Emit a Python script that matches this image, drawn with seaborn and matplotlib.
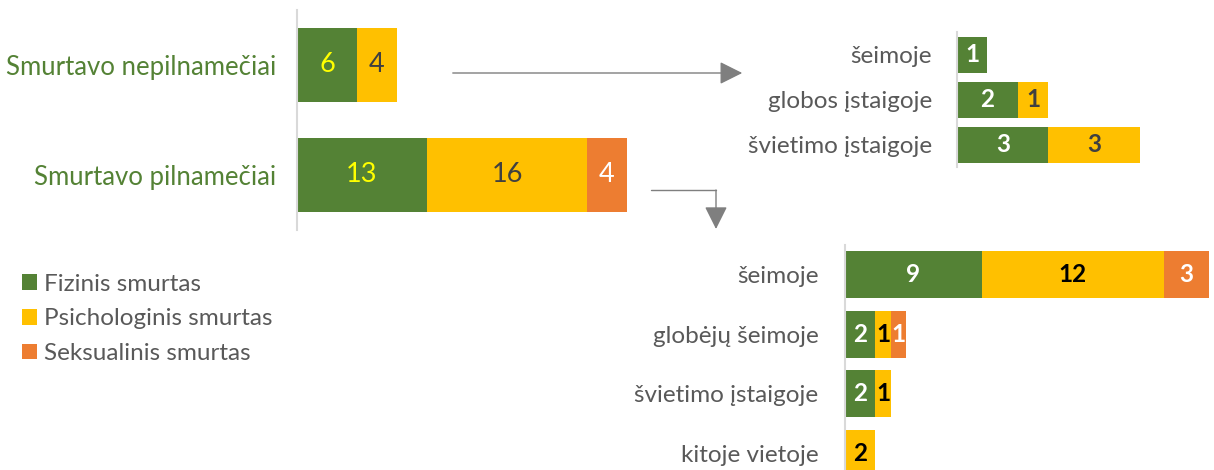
import matplotlib
matplotlib.use("Agg")
import matplotlib.pyplot as plt
import seaborn as sns
import numpy as np
from matplotlib.patches import Patch, FancyArrowPatch
from matplotlib.lines import Line2D

# ---- data ----
main_cats = ["Smurtavo nepilnamečiai", "Smurtavo pilnamečiai"]
main_fiz = [6, 13]
main_psi = [4, 16]
main_sek = [0, 4]

top_cats = ["šeimoje", "globos įstaigoje", "švietimo įstaigoje"]
top_fiz = [1, 2, 3]
top_psi = [0, 1, 3]
top_sek = [0, 0, 0]

bot_cats = ["šeimoje", "globėjų šeimoje", "švietimo įstaigoje", "kitoje vietoje"]
bot_fiz = [9, 2, 2, 0]
bot_psi = [12, 1, 1, 2]
bot_sek = [3, 1, 0, 0]

series_names = ["Fizinis smurtas", "Psichologinis smurtas", "Seksualinis smurtas"]

GREEN = "#548235"
YELLOW = "#FFC000"
ORANGE = "#ED7D31"
GRAY_TXT = "#595959"
AXIS = "#D9D9D9"

sns.set_theme(style="white")
plt.rcParams["font.family"] = ["Lato", "DejaVu Sans"]

W, H = 1214, 470
fig = plt.figure(figsize=(W / 100, H / 100), dpi=100)


def px_axes(left, top, right, bottom):
    return fig.add_axes([left / W, 1 - bottom / H, (right - left) / W, (bottom - top) / H])


def stacked(ax, cats, fiz, psi, sek, width, xmax, lab_colors, lab_size, lab_weight):
    fiz = np.array(fiz, float)
    psi = np.array(psi, float)
    sek = np.array(sek, float)
    c1 = fiz
    c2 = fiz + psi
    c3 = fiz + psi + sek
    for vals, col in [(c3, ORANGE), (c2, YELLOW), (c1, GREEN)]:
        sns.barplot(x=vals, y=cats, orient="h", color=col, saturation=1,
                    width=width, linewidth=0, ax=ax)
    for i in range(len(cats)):
        starts = [0, c1[i], c2[i]]
        for j, v in enumerate([fiz[i], psi[i], sek[i]]):
            if v > 0:
                ax.text(starts[j] + v / 2, i, f"{int(v)}", ha="center", va="center",
                        color=lab_colors[j], fontsize=lab_size, fontweight=lab_weight)
    ax.set_xlim(0, xmax)
    ax.set_xlabel("")
    ax.set_ylabel("")
    ax.set_xticks([])
    for s in ["top", "right", "bottom"]:
        ax.spines[s].set_visible(False)
    ax.spines["left"].set_color(AXIS)
    ax.spines["left"].set_linewidth(1.5)
    ax.tick_params(axis="y", length=0)
    ax.patch.set_alpha(0)


# main chart
ax1 = px_axes(297, 10, 650, 230)
stacked(ax1, main_cats, main_fiz, main_psi, main_sek, 0.68, 35.3,
        ["#FFFF00", "#404040", "white"], 19.5, "normal")
ax1.tick_params(axis="y", labelsize=18.5, labelcolor=GREEN, pad=15)

# top-right chart
ax2 = px_axes(957, 32, 1200, 167)
stacked(ax2, top_cats, top_fiz, top_psi, top_sek, 0.8, 7.97,
        ["white", "#404040", "white"], 17.5, "bold")
ax2.tick_params(axis="y", labelsize=17.5, labelcolor=GRAY_TXT, pad=18)

# bottom-right chart
ax3 = px_axes(845, 245, 1214, 483)
stacked(ax3, bot_cats, bot_fiz, bot_psi, bot_sek, 0.79, 24.3,
        ["white", "black", "white"], 17.5, "bold")
ax3.tick_params(axis="y", labelsize=17.5, labelcolor=GRAY_TXT, pad=19)

# legend
handles = [Patch(facecolor=c, edgecolor="none") for c in (GREEN, YELLOW, ORANGE)]
fig.legend(handles, series_names, loc="upper left",
           bbox_to_anchor=(12 / W, 1 - 264 / H), frameon=False,
           fontsize=17.5, labelcolor=GRAY_TXT, handlelength=0.62, handleheight=0.62,
           handletextpad=0.28, labelspacing=0.56, borderaxespad=0)

# arrows
ARW = "#7F7F7F"
fig.add_artist(FancyArrowPatch((450 / W, 1 - 73 / H), (745 / W, 1 - 73 / H),
                               transform=fig.transFigure, arrowstyle="-|>,head_length=1.0,head_width=0.5",
                               mutation_scale=14, color=ARW, lw=1))
fig.add_artist(Line2D([651 / W, 716 / W], [1 - 190 / H, 1 - 190 / H],
                      transform=fig.transFigure, color=ARW, lw=1))
fig.add_artist(FancyArrowPatch((716 / W, 1 - 190 / H), (716 / W, 1 - 229 / H),
                               transform=fig.transFigure, arrowstyle="-|>,head_length=1.0,head_width=0.5",
                               mutation_scale=14, color=ARW, lw=1, shrinkA=0, shrinkB=0))

fig.savefig("out.png", dpi=100)
